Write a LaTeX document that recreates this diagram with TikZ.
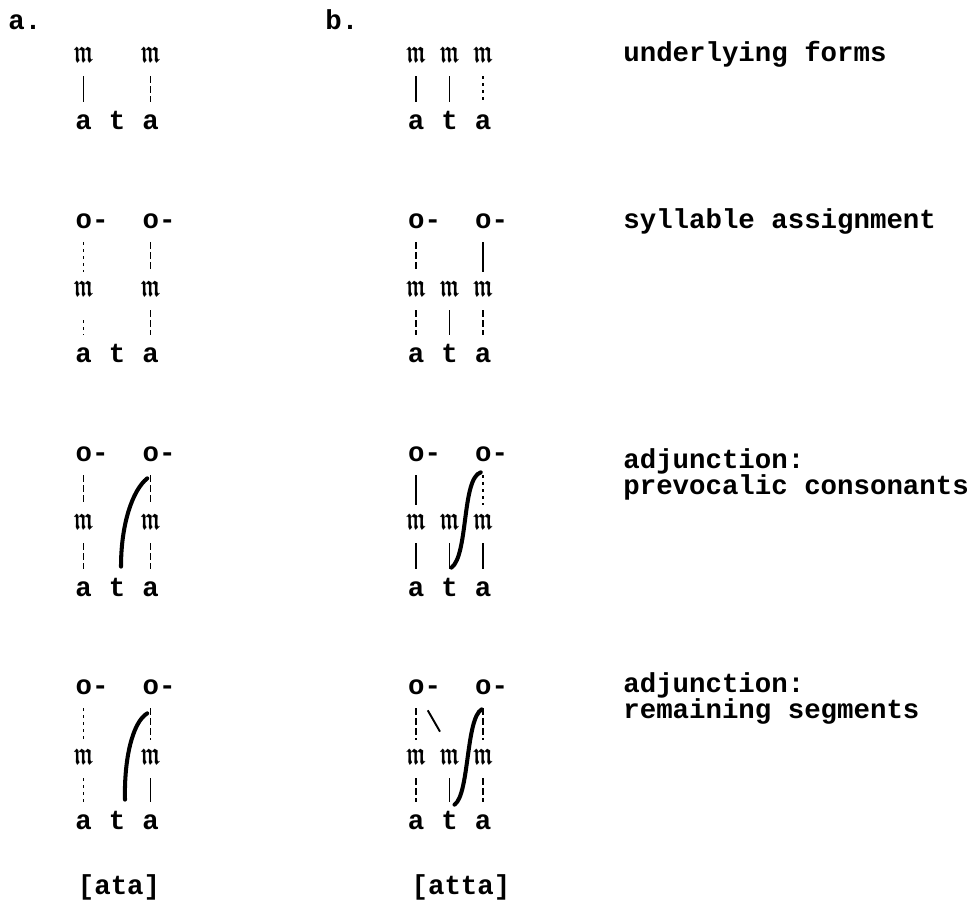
\documentclass[tikz,border=0pt]{standalone}
\usepackage{fontspec}
\usepackage{amssymb}
\usepackage{bm}
\usepackage{graphicx}
\setmonofont{Liberation Mono}
\usetikzlibrary{calc}

\newcommand{\mora}{\scalebox{0.66}[1]{$\bm{\mathfrak{m}}$}}

\tikzset{
  seg/.style={font=\ttfamily\bfseries\fontsize{15.6}{18}\selectfont, inner sep=0pt, anchor=base, text height=3mm, text depth=0pt},
  moranode/.style={font=\fontsize{18.5}{22}\selectfont, inner sep=0pt, anchor=base, text height=2.4mm, text depth=0pt},
  syl/.style={seg, anchor=base west},
  lbl/.style={font=\ttfamily\bfseries\fontsize{15.6}{18}\selectfont, inner sep=0pt, anchor=base west},
  stroke/.style={line width=1.1pt},
  link/.style={stroke, shorten <=2.6mm, shorten >=2.6mm},
  dashlink/.style={link, dash pattern=on 1.4mm off 0.6mm},
  dotlink/.style={link, dash pattern=on 0.6mm off 0.8mm},
  adjoin/.style={line width=2.3pt, line cap=round},
}

\begin{document}
\begin{tikzpicture}[x=0.2mm, y=-0.2mm]
  \useasboundingbox (0,0) rectangle (978,901);

  \node[lbl] (parta) at (8,30) {a.};
  \node[lbl] (partb) at (325,30) {b.};

  % segments, moras and syllables of each stage
  \foreach \row/\y in {1/130, 2/363, 3/597, 4/830} {
    \node[seg] (a\row s1) at (83.5,\y) {a};
    \node[seg] (a\row s2) at (117,\y) {t};
    \node[seg] (a\row s3) at (150.5,\y) {a};
    \node[seg] (b\row s1) at (416,\y) {a};
    \node[seg] (b\row s2) at (449.5,\y) {t};
    \node[seg] (b\row s3) at (483,\y) {a};
  }
  \foreach \row/\y in {1/63, 2/297, 3/530, 4/765} {
    \node[moranode] (a\row m1) at (83.5,\y) {\mora};
    \node[moranode] (a\row m3) at (150.5,\y) {\mora};
    \node[moranode] (b\row m1) at (416,\y) {\mora};
    \node[moranode] (b\row m2) at (449.5,\y) {\mora};
    \node[moranode] (b\row m3) at (483,\y) {\mora};
  }
  \foreach \row/\y in {2/229, 3/462, 4/695} {
    \node[syl] (a\row o1) at (75.25,\y) {o-};
    \node[syl] (a\row o2) at (142.25,\y) {o-};
    \node[syl] (b\row o1) at (407.75,\y) {o-};
    \node[syl] (b\row o2) at (474.75,\y) {o-};
  }

  % underlying forms
  \draw[link] (a1m1) -- (a1s1);
  \draw[dashlink] (a1m3) -- (a1s3);
  \draw[link] (b1m1) -- (b1s1);
  \draw[link] (b1m2) -- (b1s2);
  \draw[dotlink] (b1m3) -- (b1s3);

  % syllable assignment
  \draw[dotlink] (a2o1.south -| a2m1.north) -- (a2m1.north);
  \draw[dotlink, shorten <=4.6mm] (a2m1) -- (a2s1);
  \draw[dashlink] (a2o2.south -| a2m3.north) -- (a2m3.north);
  \draw[dashlink] (a2m3) -- (a2s3);
  \draw[dashlink] (b2o1.south -| b2m1.north) -- (b2m1.north);
  \draw[link] (b2o2.south -| b2m3.north) -- (b2m3.north);
  \draw[dashlink] (b2m1) -- (b2s1);
  \draw[link] (b2m2) -- (b2s2);
  \draw[dashlink] (b2m3) -- (b2s3);

  % adjunction: prevocalic consonants
  \draw[dashlink] (a3o1.south -| a3m1.north) -- (a3m1.north);
  \draw[dashlink] (a3m1) -- (a3s1);
  \draw[dashlink] (a3o2.south -| a3m3.north) -- (a3m3.north);
  \draw[dashlink] (a3m3) -- (a3s3);
  \draw[adjoin] ($(a3s2.north)+(4,-15)$) .. controls +(0,-42) and +(-15,12) .. ($(a3o2.south west)+(5,16)$);
  \draw[link] (b3o1.south -| b3m1.north) -- (b3m1.north);
  \draw[link] (b3m1) -- (b3s1);
  \draw[link] (b3m2) -- (b3s2);
  \draw[dotlink] (b3o2.south -| b3m3.north) -- (b3m3.north);
  \draw[link] (b3m3) -- (b3s3);
  \draw[adjoin] ($(b3s2.north)+(2,-14)$) .. controls +(17,-13) and +(-19,6) .. ($(b3o2.south west)+(6,10)$);

  % adjunction: remaining segments
  \draw[dotlink] (a4o1.south -| a4m1.north) -- (a4m1.north);
  \draw[dotlink] (a4m1) -- (a4s1);
  \draw[dashlink] (a4o2.south -| a4m3.north) -- (a4m3.north);
  \draw[link] (a4m3) -- (a4s3);
  \draw[adjoin] ($(a4s2.north)+(8,-15)$) .. controls +(-1,-40) and +(-15,9) .. ($(a4o2.south west)+(5,18)$);
  \draw[dashlink] (b4o1.south -| b4m1.north) -- (b4m1.north);
  \draw[stroke] ($(b4o1.south west)+(20,15)$) -- ($(b4m2.north)+(-9.5,-21)$);
  \draw[dashlink] (b4m1) -- (b4s1);
  \draw[link] (b4m2) -- (b4s2);
  \draw[dashlink] (b4o2.south -| b4m3.north) -- (b4m3.north);
  \draw[dashlink] (b4m3) -- (b4s3);
  \draw[adjoin] ($(b4s2.north)+(5,-10)$) .. controls +(15,-10) and +(-16,9) .. ($(b4o2.south west)+(7,14)$);

  \node[lbl] (under) at (623,62) {underlying forms};
  \node[lbl] (sylass) at (623,229) {syllable assignment};
  \node[lbl] (adjone) at (623,469) {adjunction:};
  \node[lbl] (prevoc) at (623,495) {prevocalic consonants};
  \node[lbl] (adjtwo) at (623,693) {adjunction:};
  \node[lbl] (remain) at (623,719) {remaining segments};

  \node[seg] (outa) at (119,895) {[ata]};
  \node[seg] (outb) at (461,895) {[atta]};
\end{tikzpicture}
\end{document}
